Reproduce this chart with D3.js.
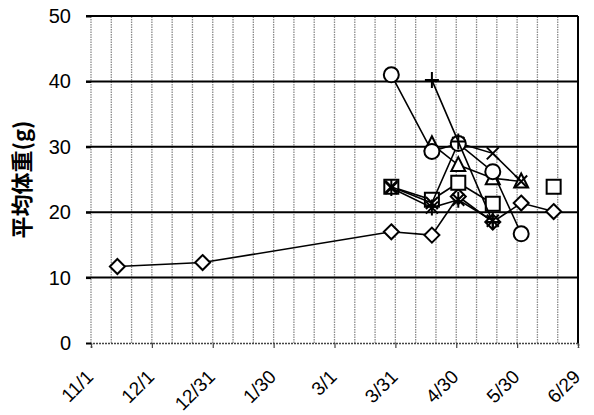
<!DOCTYPE html>
<html>
<head>
<meta charset="utf-8">
<script src="https://cdn.jsdelivr.net/npm/d3@7"></script>
<style>
body { margin: 0; background: #fff; }
svg { display: block; }
</style>
</head>
<body>
<svg id="chart"></svg>
<script>
// sampling dates and tick labels
const dates = ["2010-11-14", "2010-12-26", "2011-03-29", "2011-04-18", "2011-05-01", "2011-05-18", "2011-06-01", "2011-06-17"];
const tickDates = ["2010-11-01", "2010-12-01", "2010-12-31", "2011-01-30", "2011-03-01", "2011-03-31", "2011-04-30", "2011-05-30", "2011-06-29"];
const tickLabels = ["11/1", "12/1", "12/31", "1/30", "3/1", "3/31", "4/30", "5/30", "6/29"];
const yTicks = [0, 10, 20, 30, 40, 50];

// average weight (g) per group, null = no sample
const diamond  = [11.7, 12.3, 17.0, 16.5, 22.4, 18.5, 21.4, 20.1];
const square   = [null, null, 23.9, 21.9, 24.5, 21.3, null, 23.9];
const triangle = [null, null, null, 30.4, 27.2, 25.2, 24.7, null];
const cross    = [null, null, 23.9, 21.4, 30.6, 29.0, 24.7, null];
const star     = [null, null, 23.7, 20.7, 21.9, 18.7, null, null];
const circle   = [null, null, 41.0, 29.3, 30.5, 26.2, 16.7, null];
const plus     = [null, null, null, 40.2, 30.8, 18.5, null, null];

const yTitle = "平均体重(g)";

const parse = d3.utcParse("%Y-%m-%d");
const series = [
    { shape: "diamond", values: diamond },
    { shape: "square", values: square },
    { shape: "triangle", values: triangle },
    { shape: "cross", values: cross },
    { shape: "star", values: star },
    { shape: "circle", values: circle },
    { shape: "plus", values: plus }
];

const width = 594, height = 415;
const margin = { left: 91, right: 16, top: 16, bottom: 72 };
const numFont = "'Liberation Sans', Arial, sans-serif";

const svg = d3.select("#chart").attr("width", width).attr("height", height);

const x = d3.scaleUtc()
    .domain([parse(tickDates[0]), parse(tickDates[tickDates.length - 1])])
    .range([margin.left, width - margin.right]);
const y = d3.scaleLinear()
    .domain([0, 50])
    .range([height - margin.bottom, margin.top]);

// minor vertical grid every 10 days
const minor = d3.utcDay.range(x.domain()[0], d3.utcDay.offset(x.domain()[1], 1), 10);
svg.append("g")
    .selectAll("line")
    .data(minor)
    .enter().append("line")
    .attr("x1", d => x(d)).attr("x2", d => x(d))
    .attr("y1", y(0)).attr("y2", y(50))
    .attr("stroke", "#8a8a8a")
    .attr("stroke-width", 1.3)
    .attr("stroke-dasharray", "1.5,1");

// horizontal grid
svg.append("g")
    .selectAll("line")
    .data(yTicks.filter(d => d > 0))
    .enter().append("line")
    .attr("x1", x.range()[0] - 5).attr("x2", x.range()[1])
    .attr("y1", d => y(d)).attr("y2", d => y(d))
    .attr("stroke", "#000")
    .attr("stroke-width", 2);

// right border
svg.append("line")
    .attr("x1", x.range()[1]).attr("x2", x.range()[1])
    .attr("y1", y(0)).attr("y2", y(50))
    .attr("stroke", "#000").attr("stroke-width", 2);

// x axis
const xAxis = d3.axisBottom(x)
    .tickValues(tickDates.map(parse))
    .tickSize(5)
    .tickFormat((d, i) => tickLabels[i]);
const gx = svg.append("g")
    .attr("transform", `translate(0,${y(0)})`)
    .call(xAxis);
gx.select(".domain").attr("stroke", "#444").attr("stroke-width", 1.6).attr("stroke-dasharray", "2,1");
gx.selectAll(".tick line").attr("stroke", "#444").attr("stroke-width", 1.2);
gx.selectAll(".tick text")
    .attr("font-family", numFont)
    .attr("font-size", 19)
    .attr("fill", "#000")
    .attr("text-anchor", "end")
    .attr("dy", 0)
    .attr("transform", "translate(3,35) rotate(-45)")
    .attr("y", 0).attr("x", 0);

// y axis labels
const gy = svg.append("g")
    .attr("transform", `translate(${margin.left},0)`)
    .call(d3.axisLeft(y).tickValues(yTicks).tickSize(5).tickPadding(15));
gy.select(".domain").remove();
gy.selectAll(".tick line").attr("stroke", "#000").attr("stroke-width", 2);
gy.selectAll(".tick text")
    .attr("font-family", numFont)
    .attr("font-size", 20)
    .attr("fill", "#000");

svg.append("text")
    .attr("transform", `translate(30,${y(25)}) rotate(-90)`)
    .attr("text-anchor", "middle")
    .attr("font-family", "'Noto Sans CJK JP', sans-serif")
    .attr("font-weight", "bold")
    .attr("font-size", 22)
    .text(yTitle);

// marker paths
function markerPath(shape) {
    const p = d3.path();
    if (shape === "diamond") {
        p.moveTo(0, -7.5); p.lineTo(7.5, 0); p.lineTo(0, 7.5); p.lineTo(-7.5, 0); p.closePath();
    } else if (shape === "square") {
        p.rect(-7, -7, 14, 14);
    } else if (shape === "triangle") {
        p.moveTo(0, -8); p.lineTo(7, 6); p.lineTo(-7, 6); p.closePath();
    } else if (shape === "cross") {
        p.moveTo(-6, -6); p.lineTo(6, 6); p.moveTo(6, -6); p.lineTo(-6, 6);
    } else if (shape === "star") {
        p.moveTo(-6, -6); p.lineTo(6, 6); p.moveTo(6, -6); p.lineTo(-6, 6);
        p.moveTo(0, -8); p.lineTo(0, 8);
    } else if (shape === "circle") {
        p.arc(0, 0, 7.5, 0, 2 * Math.PI);
    } else {
        p.moveTo(-7, 0); p.lineTo(7, 0); p.moveTo(0, -8); p.lineTo(0, 8);
    }
    return p.toString();
}

const line = d3.line()
    .defined(d => d.v != null)
    .x(d => x(d.date))
    .y(d => y(d.v));

series.forEach(s => {
    const pts = s.values.map((v, i) => ({ date: parse(dates[i]), v: v }));
    const g = svg.append("g");
    g.append("path")
        .datum(pts)
        .attr("fill", "none")
        .attr("stroke", "#000")
        .attr("stroke-width", 1.6)
        .attr("d", line);
    const open = ["diamond", "square", "triangle", "circle"].includes(s.shape);
    g.selectAll("path.mk")
        .data(pts.filter(d => d.v != null))
        .enter().append("path")
        .attr("class", "mk")
        .attr("transform", d => `translate(${x(d.date)},${y(d.v)})`)
        .attr("d", markerPath(s.shape))
        .attr("fill", open ? "#fff" : "none")
        .attr("stroke", "#000")
        .attr("stroke-width", 2);
});
</script>
</body>
</html>
